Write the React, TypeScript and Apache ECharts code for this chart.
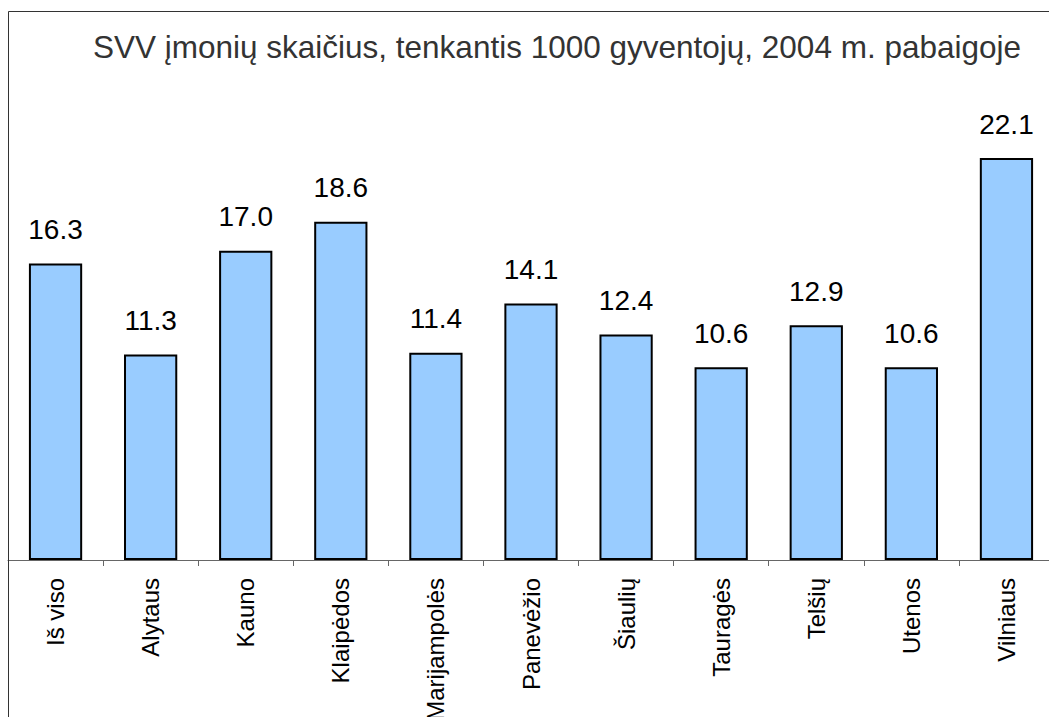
import React, { useEffect, useRef } from "react";
import * as echarts from "echarts";

const titleText = "SVV įmonių skaičius, tenkantis 1000 gyventojų, 2004 m. pabaigoje";
const categories = [
  "Iš viso",
  "Alytaus",
  "Kauno",
  "Klaipėdos",
  "Marijampolės",
  "Panevėžio",
  "Šiaulių",
  "Tauragės",
  "Telšių",
  "Utenos",
  "Vilniaus",
];
const values = [16.3, 11.3, 17.0, 18.6, 11.4, 14.1, 12.4, 10.6, 12.9, 10.6, 22.1];

const FONT = "'Liberation Sans', Arial, sans-serif";

export default function App() {
  const ref = useRef<HTMLDivElement>(null);
  useEffect(() => {
    if (!ref.current) return;
    const chart = echarts.init(ref.current, null, { renderer: "svg" });
    const yMax = 30;
    const axisY = 560;
    const pxPerUnit = 402 / 22.1;
    const gridH = yMax * pxPerUnit;
    chart.setOption({
      animation: false,
      backgroundColor: "#ffffff",
      title: {
        text: titleText,
        left: 552,
        top: 26,
        textAlign: "center",
        textStyle: {
          fontFamily: FONT,
          fontSize: 31.5,
          fontWeight: "normal",
          color: "#333333",
        },
      },
      graphic: [
        {
          type: "rect",
          shape: { x: 8.5, y: 11.5, width: 1200, height: 900 },
          style: { fill: "none", stroke: "#333333", lineWidth: 1 },
          silent: true,
          z: 100,
        },
      ],
      grid: {
        left: 8,
        width: 1046,
        top: axisY - gridH,
        height: gridH,
        containLabel: false,
        outerBoundsMode: "none",
      },
      xAxis: {
        type: "category",
        data: categories,
        boundaryGap: true,
        axisLine: { show: true, lineStyle: { color: "#666666", width: 1 } },
        axisTick: {
          show: true,
          inside: false,
          length: 6,
          alignWithLabel: false,
          lineStyle: { color: "#666666" },
        },
        axisLabel: {
          rotate: 90,
          interval: 0,
          margin: 18,
          fontFamily: FONT,
          fontSize: 24,
          color: "#000000",
        },
      },
      yAxis: {
        type: "value",
        min: 0,
        max: yMax,
        show: false,
        splitLine: { show: false },
      },
      series: [
        {
          type: "bar",
          data: values,
          barWidth: "56%",
          itemStyle: { color: "#99CCFF", borderColor: "#000000", borderWidth: 2 },
          label: {
            show: true,
            position: "top",
            distance: 20,
            formatter: (p: any) => Number(p.value).toFixed(1),
            fontFamily: FONT,
            fontSize: 28,
            color: "#000000",
          },
        },
      ],
    });
    return () => chart.dispose();
  }, []);
  return (
    <div
      ref={ref}
      style={{ position: "absolute", left: 0, top: 0, width: 1049, height: 717 }}
    />
  );
}
